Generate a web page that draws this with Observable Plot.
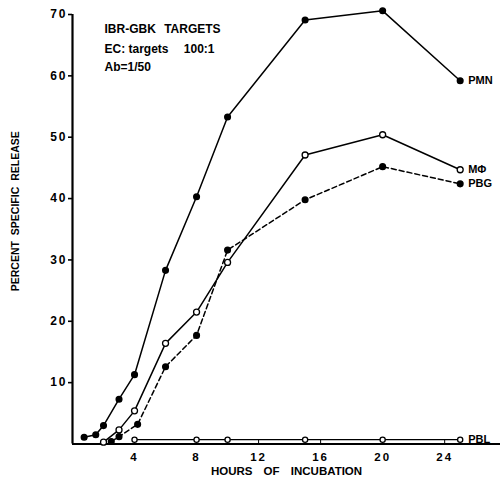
<!DOCTYPE html>
<html>
<head>
<meta charset="utf-8">
<script src="https://cdn.jsdelivr.net/npm/d3@7"></script>
<script src="https://cdn.jsdelivr.net/npm/@observablehq/plot@0.6"></script>
<style>
  html, body { margin: 0; padding: 0; background: #fff; }
  svg { font-family: "Liberation Sans", Arial, Helvetica, sans-serif; }
  .tickwide text { letter-spacing: 2px; }
  .xtitle text { word-spacing: 8px; }
  .ytitle text { word-spacing: 3px; }
  .note1 text { word-spacing: 5px; }
</style>
</head>
<body>
<div id="chart"></div>
<script>
// Data
const pmnHours = [0.75, 1.5, 2, 3, 4, 6, 8, 10, 15, 20, 25];
const pmnRelease = [1.1, 1.5, 3.0, 7.3, 11.3, 28.3, 40.3, 53.3, 69.1, 70.6, 59.2];

const macHours = [2, 3, 4, 6, 8, 10, 15, 20, 25];
const macRelease = [0.3, 2.3, 5.4, 16.4, 21.5, 29.6, 47.1, 50.4, 44.7];

const pbgHours = [2.5, 3, 4.2, 6, 8, 10, 15, 20, 25];
const pbgRelease = [0.4, 1.2, 3.2, 12.6, 17.7, 31.6, 39.8, 45.2, 42.4];

const pblHours = [4, 8, 10, 15, 20, 25];
const pblRelease = [0.7, 0.7, 0.7, 0.7, 0.7, 0.7];

const seriesNames = ["PMN", "MΦ", "PBG", "PBL"];
const xTicks = [4, 8, 12, 16, 20, 24];
const yTicks = [10, 20, 30, 40, 50, 60, 70];
const yTitle = "PERCENT SPECIFIC RELEASE";
const xTitle = "HOURS OF INCUBATION";
const notes = ["IBR-GBK TARGETS", "EC: targets\u2003 100:1", "Ab=1/50"];

function rows(name, hs, vs) { return hs.map((h, i) => ({series: name, hour: h, release: vs[i]})); }
const pmn = rows(seriesNames[0], pmnHours, pmnRelease);
const mac = rows(seriesNames[1], macHours, macRelease);
const pbg = rows(seriesNames[2], pbgHours, pbgRelease);
const pbl = rows(seriesNames[3], pblHours, pblRelease);
const lasts = [pmn, mac, pbg, pbl].map(s => s[s.length - 1]);

const font = `"Liberation Sans", Arial, Helvetica, sans-serif`;

const chart = Plot.plot({
  width: 502,
  height: 482,
  marginLeft: 72,
  marginRight: 2,
  marginTop: 14,
  marginBottom: 38.5,
  style: {fontFamily: font, background: "#fff", color: "#000"},
  x: {domain: [0, 27.6]},
  y: {domain: [0, 70]},
  marks: [
    Plot.axisY({ticks: yTicks, tickSize: 4, tickPadding: 1, label: null, fontSize: 12, fontWeight: "bold", strokeWidth: 1.6, className: "tickwide"}),
    Plot.axisX({ticks: xTicks, tickSize: 0, tickPadding: 9, label: null, fontSize: 11.5, fontWeight: "bold", className: "tickwide"}),
    Plot.ruleX(xTicks, {x: d => d, y1: 0, y2: 0.6, stroke: "#000", strokeWidth: 1}),
    Plot.ruleY([0], {stroke: "#000", strokeWidth: 2.2}),
    Plot.ruleX([0], {y1: 0, y2: 70, stroke: "#000", strokeWidth: 2.2}),
    Plot.line(pmn, {x: "hour", y: "release", stroke: "#000", strokeWidth: 1.5}),
    Plot.line(mac, {x: "hour", y: "release", stroke: "#000", strokeWidth: 1.5}),
    Plot.line(pbg, {x: "hour", y: "release", stroke: "#000", strokeWidth: 1.5, strokeDasharray: "5,3"}),
    Plot.line(pbl, {x: "hour", y: "release", stroke: "#000", strokeWidth: 1.3}),
    Plot.dot(pmn, {x: "hour", y: "release", r: 2.8, fill: "#000", stroke: "#000"}),
    Plot.dot(pbg, {x: "hour", y: "release", r: 2.8, fill: "#000", stroke: "#000"}),
    Plot.dot(mac, {x: "hour", y: "release", r: 3, fill: "#fff", stroke: "#000", strokeWidth: 1.3}),
    Plot.dot(pbl, {x: "hour", y: "release", r: 2.6, fill: "#fff", stroke: "#000", strokeWidth: 1.3}),
    Plot.text(lasts, {x: "hour", y: "release", text: "series", dx: 8, textAnchor: "start", fontSize: 11, fontWeight: "bold"}),
    Plot.text([yTitle], {frameAnchor: "left", textAnchor: "middle", rotate: -90, dx: -57, dy: -18, fontSize: 10.5, fontWeight: "bold", className: "ytitle"}),
    Plot.text([xTitle], {frameAnchor: "bottom", textAnchor: "middle", dy: 31, fontSize: 11.5, fontWeight: "bold", className: "xtitle"}),
    Plot.text([notes[0]], {frameAnchor: "top-left", dx: 32, dy: 10, textAnchor: "start", fontSize: 12, fontWeight: "bold", className: "note1"}),
    Plot.text([notes[1]], {frameAnchor: "top-left", dx: 32, dy: 30, textAnchor: "start", fontSize: 12, fontWeight: "bold"}),
    Plot.text([notes[2]], {frameAnchor: "top-left", dx: 32, dy: 48, textAnchor: "start", fontSize: 12, fontWeight: "bold"})
  ]
});
document.getElementById("chart").appendChild(chart);
</script>
</body>
</html>
